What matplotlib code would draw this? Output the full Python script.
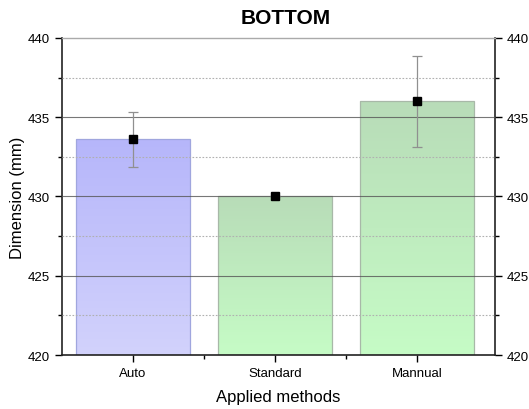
import numpy as np
import matplotlib.pyplot as plt
from matplotlib.colors import LinearSegmentedColormap

plt.rcParams['font.family'] = ['Liberation Sans', 'DejaVu Sans']

# data
methods = ['Auto', 'Standard', 'Mannual']
means = [433.6, 430.0, 436.0]
errors = [1.73, 0.0, 2.86]
top_colors = ['#b6b6fa', '#b8dcb8', '#b8dcb8']
bottom_colors = ['#d2d2fc', '#c6fcc6', '#c6fcc6']
edge_colors = ['#a0a6de', '#a8b8a8', '#a8b8a8']

y_min, y_max = 420, 440
bar_width = 0.8

fig = plt.figure(figsize=(5.29, 4.10), dpi=100)
ax = fig.add_axes([0.1172, 0.1317, 0.8185, 0.7732])

x = np.arange(len(methods))

# bars with a vertical gradient (dark at top, light at bottom)
for i in range(len(methods)):
    cmap = LinearSegmentedColormap.from_list('g%d' % i, [bottom_colors[i], top_colors[i]])
    grad = np.linspace(1, 0, 256).reshape(-1, 1)
    ax.imshow(grad, cmap=cmap, aspect='auto', zorder=1,
              extent=[x[i] - bar_width / 2, x[i] + bar_width / 2, y_min, means[i]])
ax.bar(x, np.array(means) - y_min, bottom=y_min, width=bar_width, fill=False,
       edgecolor=edge_colors, linewidth=0.9, zorder=2)

# grid lines
for v in [425, 430, 435]:
    ax.axhline(v, color='#555555', linewidth=0.8, alpha=0.8, zorder=3)
for v in [422.5, 427.5, 432.5, 437.5]:
    ax.axhline(v, color='#b0b0b0', linewidth=0.8, linestyle=(0, (1.5, 1.5)), zorder=3)

# error bars and mean markers
ax.errorbar(x, means, yerr=errors, fmt='none', ecolor='#909090', elinewidth=0.9,
            capsize=3.3, capthick=0.9, zorder=4)
ax.plot(x, means, 's', color='black', markersize=5.3, zorder=5)

ax.set_xlim(-0.5, 2.55)
ax.set_ylim(y_min, y_max)
ax.set_xticks(x)
ax.set_xticklabels(methods)
ax.set_xticks([0.5, 1.5], minor=True)
ax.set_yticks([420, 425, 430, 435, 440])
ax.set_yticks([422.5, 427.5, 432.5, 437.5], minor=True)

ax.tick_params(axis='both', which='major', labelsize=9.5, length=5, width=1, direction='out')
ax.tick_params(axis='both', which='minor', length=3, width=1, direction='out')
ax.tick_params(axis='y', which='both', right=True, labelright=True)

for s in ['left', 'right', 'bottom']:
    ax.spines[s].set_linewidth(1.2)
    ax.spines[s].set_color('#222222')
ax.spines['top'].set_color('#aaaaaa')
ax.spines['top'].set_linewidth(1)

ax.set_xlabel('Applied methods', fontsize=12, labelpad=7)
ax.set_ylabel('Dimension (mm)', fontsize=12, labelpad=2)
ax.set_title('BOTTOM', fontsize=15, fontweight='bold', pad=11, x=0.517)

fig.savefig('out.png', dpi=100)
